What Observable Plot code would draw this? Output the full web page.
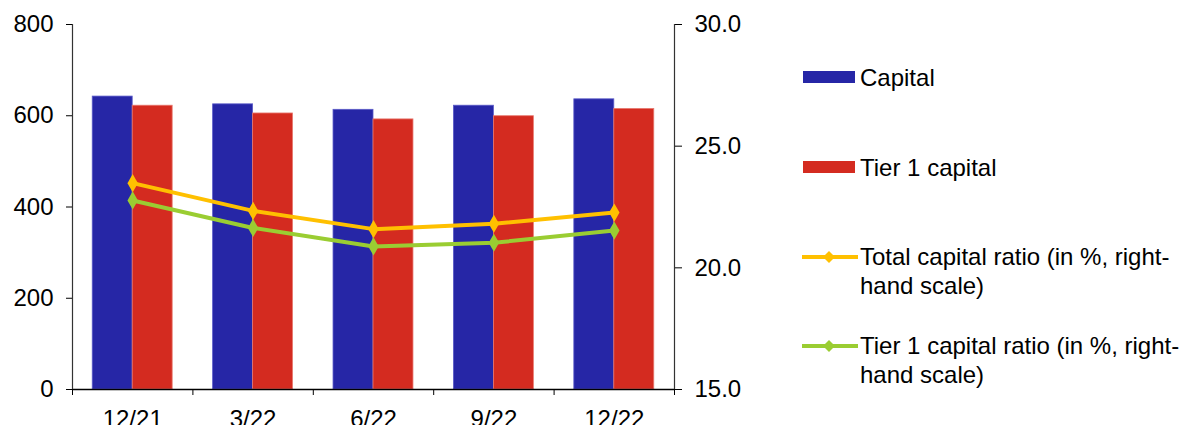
<!DOCTYPE html>
<html>
<head>
<meta charset="utf-8">
<script src="https://cdn.jsdelivr.net/npm/d3@7"></script>
<script src="https://cdn.jsdelivr.net/npm/@observablehq/plot@0.6"></script>
<style>
  html, body { margin: 0; padding: 0; background: #fff; }
  #wrap { position: relative; width: 1182px; height: 425px; overflow: hidden; font-family: "Liberation Sans", Arial, sans-serif; }
  #chart { position: absolute; left: 0; top: 0; }
  .leg { position: absolute; font-size: 24px; line-height: 29px; color: #000; white-space: nowrap; }
  .sw { position: absolute; }
</style>
</head>
<body>
<div id="wrap">
  <div id="chart"></div>
  <div id="legend"></div>
</div>
<script>
const categories = ["12/21", "3/22", "6/22", "9/22", "12/22"];
const capital = [642, 625, 613, 622, 636];
const tier1Capital = [622, 605, 592, 599, 615];
const totalRatio = [23.48, 22.34, 21.59, 21.81, 22.27];
const tier1Ratio = [22.77, 21.64, 20.88, 21.03, 21.53];
const leftTicks = [0, 200, 400, 600, 800];
const rightTicks = [15, 20, 25, 30];
const seriesNames = ["Capital", "Tier 1 capital", "Total capital ratio (in %, right-\nhand scale)", "Tier 1 capital ratio (in %, right-\nhand scale)"];
const colors = ["#2626A6", "#D42B20", "#FFC000", "#9ACD32"];

const rMin = 15, rMax = 30, lMax = 800;
const toLeft = v => (v - rMin) * lMax / (rMax - rMin);
const bw = 0.332;

const data = categories.map((c, i) => ({
  i, c, capital: capital[i], tier1: tier1Capital[i],
  total: totalRatio[i], t1r: tier1Ratio[i]
}));

const plot = Plot.plot({
  width: 760,
  height: 425,
  marginLeft: 72,
  marginRight: 86,
  marginTop: 24,
  marginBottom: 36,
  style: { fontFamily: "Liberation Sans, Arial, sans-serif", fontSize: "24px", color: "#000", background: "#fff" },
  x: { type: "linear", domain: [0, categories.length] },
  y: { domain: [0, lMax] },
  marks: [
    Plot.rectY(data, { x1: d => d.i + 0.5 - bw, x2: d => d.i + 0.5, y: "capital", fill: colors[0], stroke: "#5a5ac8", strokeWidth: 0.8 }),
    Plot.rectY(data, { x1: d => d.i + 0.5, x2: d => d.i + 0.5 + bw, y: "tier1", fill: colors[1], stroke: "#e87a70", strokeWidth: 0.8 }),
    Plot.line(data, { x: d => d.i + 0.5, y: d => toLeft(d.total), stroke: colors[2], strokeWidth: 4 }),
    Plot.dot(data, { x: d => d.i + 0.5, y: d => toLeft(d.total), symbol: "diamond", fill: colors[2], r: 5.5 }),
    Plot.line(data, { x: d => d.i + 0.5, y: d => toLeft(d.t1r), stroke: colors[3], strokeWidth: 4 }),
    Plot.dot(data, { x: d => d.i + 0.5, y: d => toLeft(d.t1r), symbol: "diamond", fill: colors[3], r: 5.5 }),
    Plot.ruleY([0], { stroke: "#000", strokeWidth: 1.5 }),
    Plot.ruleX([0, categories.length], { stroke: "#333", strokeWidth: 1.2 }),
    Plot.axisY({ anchor: "left", ticks: leftTicks, tickSize: 6, tickPadding: 13, tickFormat: d => String(d), fontSize: 24, stroke: "#000", label: null }),
    Plot.axisY({ anchor: "right", ticks: rightTicks.map(toLeft), tickSize: 7, tickPadding: 13, tickFormat: d => (rMin + d * (rMax - rMin) / lMax).toFixed(1), fontSize: 24, stroke: "#000", label: null }),
    Plot.axisX({ ticks: d3.range(categories.length + 1), tickSize: 6, tickFormat: () => "", stroke: "#000", label: null }),
    Plot.axisX({ ticks: categories.map((c, i) => i + 0.5), tickSize: 0, tickPadding: 20, tickFormat: d => categories[Math.round(d - 0.5)], fontSize: 24, label: null })
  ]
});
document.getElementById("chart").appendChild(plot);

// Legend
const legend = document.getElementById("legend");
const legendRows = [
  { kind: "bar", y: 77 },
  { kind: "bar", y: 167 },
  { kind: "line", y: 256.5 },
  { kind: "line", y: 345.5 }
];
legendRows.forEach((row, k) => {
  if (row.kind === "bar") {
    const sw = document.createElement("div");
    sw.className = "sw";
    Object.assign(sw.style, { left: "803px", top: (row.y - 6) + "px", width: "52px", height: "12px", background: colors[k] });
    legend.appendChild(sw);
  } else {
    const ns = "http://www.w3.org/2000/svg";
    const s = document.createElementNS(ns, "svg");
    s.setAttribute("width", 56); s.setAttribute("height", 14);
    s.setAttribute("class", "sw");
    s.style.left = "802px"; s.style.top = (row.y - 7) + "px";
    const ln = document.createElementNS(ns, "line");
    ln.setAttribute("x1", 0); ln.setAttribute("x2", 56); ln.setAttribute("y1", 7); ln.setAttribute("y2", 7);
    ln.setAttribute("stroke", colors[k]); ln.setAttribute("stroke-width", 4);
    s.appendChild(ln);
    const dm = document.createElementNS(ns, "path");
    dm.setAttribute("d", "M27,1L33,7L27,13L21,7Z");
    dm.setAttribute("fill", colors[k]);
    s.appendChild(dm);
    legend.appendChild(s);
  }
  const t = document.createElement("div");
  t.className = "leg";
  t.style.left = "860px";
  t.style.top = (row.y - 14.5) + "px";
  seriesNames[k].split("\n").forEach((line, j) => {
    if (j > 0) t.appendChild(document.createElement("br"));
    t.appendChild(document.createTextNode(line));
  });
  legend.appendChild(t);
});
</script>
</body>
</html>
